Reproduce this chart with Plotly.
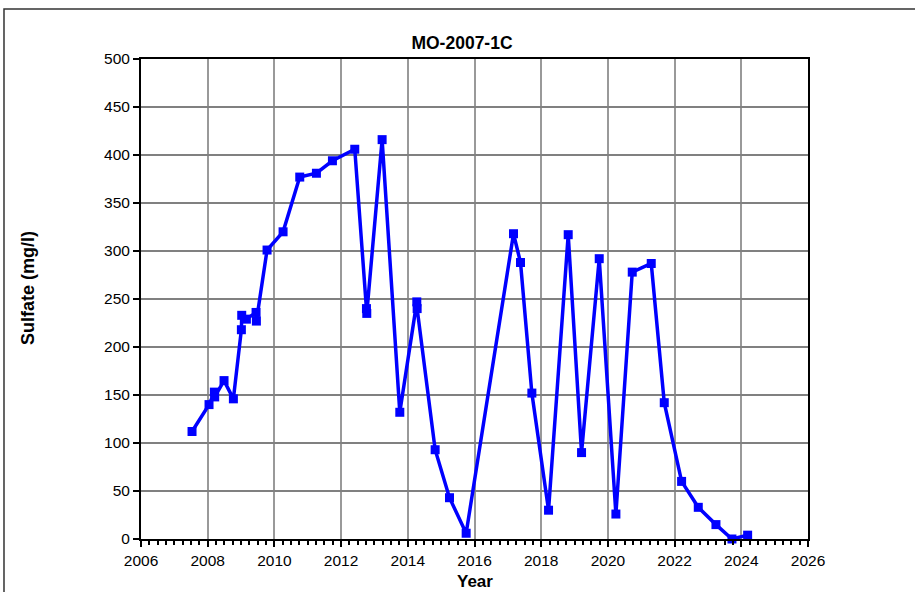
import plotly.graph_objects as go

# sampling dates (decimal years) and sulfate values (mg/l)
years = [
    2007.53, 2008.04, 2008.20, 2008.21, 2008.49, 2008.77, 2009.01, 2009.02,
    2009.16, 2009.45, 2009.46, 2009.78, 2010.26, 2010.76, 2011.26, 2011.74,
    2012.41, 2012.76, 2012.77, 2013.23, 2013.76, 2014.27, 2014.28, 2014.82,
    2015.25, 2015.75, 2017.17, 2017.38, 2017.72, 2018.22, 2018.81, 2019.21,
    2019.74, 2020.24, 2020.73, 2021.30, 2021.69, 2022.21, 2022.71, 2023.24,
    2023.72, 2024.19,
]
sulfate = [
    112, 140, 153, 148, 165, 146, 218, 233,
    229, 236, 227, 301, 320, 377, 381, 394,
    406, 240, 235, 416, 132, 247, 240, 93,
    43, 6, 318, 288, 152, 30, 317, 90,
    292, 26, 278, 287, 142, 60, 33, 15,
    0, 4,
]

FONT = "Liberation Sans, Arial"

fig = go.Figure()
fig.add_trace(go.Scatter(
    x=years, y=sulfate, mode="lines+markers",
    line=dict(color="#0000FF", width=3.5),
    marker=dict(symbol="square", size=9, color="#0000FF"),
    cliponaxis=False, showlegend=False,
))

tick_font = dict(family=FONT, size=15.5, color="black")

fig.update_xaxes(
    range=[2006, 2026], dtick=2, tick0=2006,
    showline=True, mirror=True, linecolor="black", linewidth=2,
    showgrid=True, gridcolor="#999999", gridwidth=1.5,
    ticks="outside", ticklen=6, tickcolor="black", tickwidth=1.5,
    minor=dict(dtick=0.25, ticks="outside", ticklen=4, tickcolor="black", showgrid=False),
    tickfont=tick_font, zeroline=False, automargin=False,
)
fig.update_yaxes(
    range=[0, 500], dtick=50,
    showline=True, mirror=True, linecolor="black", linewidth=2,
    showgrid=True, gridcolor="#808080", gridwidth=1.5,
    ticks="outside", ticklen=6, tickcolor="black", tickwidth=1.5,
    tickfont=tick_font, zeroline=False, automargin=False,
)

fig.update_layout(
    width=915, height=592,
    margin=dict(l=141, r=107, t=59, b=53),
    paper_bgcolor="white", plot_bgcolor="white",
    title=dict(text="<b>MO-2007-1C</b>", x=462 / 915, xanchor="center", y=1 - 43 / 592, yanchor="middle",
               font=dict(family=FONT, size=17.5, color="black")),
    annotations=[
        dict(text="<b>Year</b>", xref="paper", yref="paper", x=(475 - 141) / 667, y=(539 - 581) / 480,
             showarrow=False, xanchor="center", yanchor="middle", font=dict(family=FONT, size=17, color="black")),
        dict(text="<b>Sulfate (mg/l)</b>", xref="paper", yref="paper", x=(28 - 141) / 667, y=(539 - 288) / 480,
             showarrow=False, textangle=-90, xanchor="center", yanchor="middle",
             font=dict(family=FONT, size=18, color="black")),
    ],
    shapes=[dict(type="rect", xref="paper", yref="paper",
                 x0=-0.2054, x1=1.2, y0=-0.2, y1=1.104,
                 line=dict(color="#333333", width=1.5), layer="below")],
)

fig.write_html("out.html", config={"displayModeBar": False},
               post_script="document.body.style.margin='0';")
